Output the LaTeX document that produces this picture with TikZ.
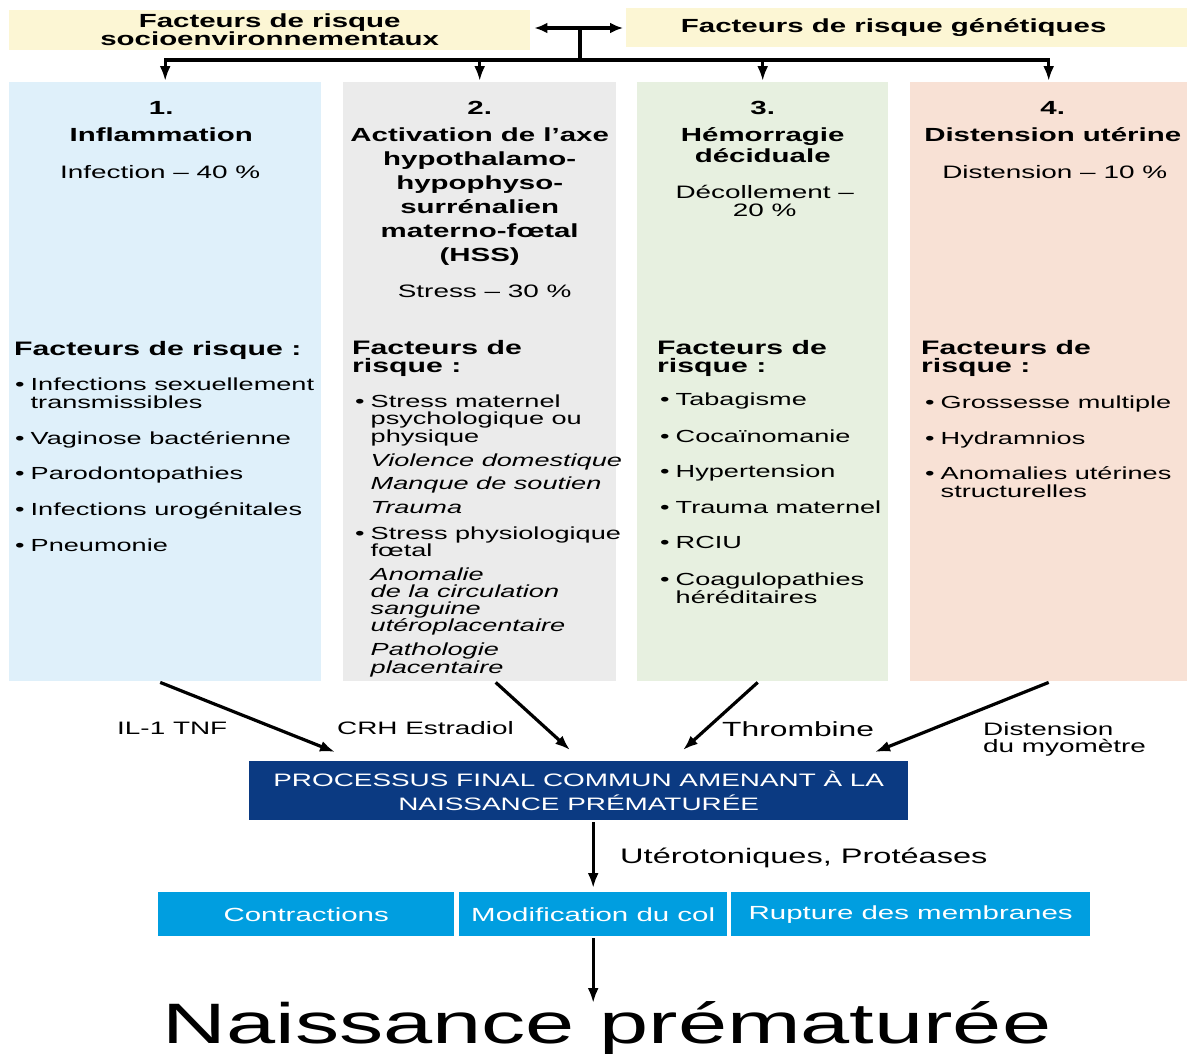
\documentclass[tikz,border=0pt]{standalone}
\usepackage{fontspec}
\setmainfont{Liberation Sans}[FakeStretch=1.55]
\usetikzlibrary{arrows.meta,positioning,calc}
\definecolor{RiskYellow}{HTML}{FCF6D4}
\definecolor{InflBlue}{HTML}{DFF0FA}
\definecolor{AxisGray}{HTML}{EBEBEB}
\definecolor{HemoGreen}{HTML}{E7F0E0}
\definecolor{DistPeach}{HTML}{F8E1D5}
\definecolor{FinalBlue}{HTML}{0B3A82}
\definecolor{StepCyan}{HTML}{009EE0}
\newcommand{\sz}[2]{\fontsize{#1}{#2}\selectfont}
\newcommand{\bul}{\makebox[15.5pt][l]{\textbullet}}
\newcommand{\ind}{\hspace*{15.5pt}}
\tikzset{
  riskbox/.style={rectangle,fill=RiskYellow,anchor=north west,inner sep=0pt,align=center,font=\sz{19}{18}\bfseries},
  colbox/.style={rectangle,anchor=north west,inner sep=0pt,minimum height=599pt},
  coltitle/.style={anchor=base,inner sep=0pt,align=center,font=\sz{19}{24}\bfseries},
  colsub/.style={anchor=base,inner sep=0pt,align=center,font=\sz{18}{18}},
  riskhead/.style={anchor=base west,inner sep=0pt,align=left,font=\sz{19.5}{18}\bfseries},
  risklist/.style={anchor=base west,inner sep=0pt,align=left,font=\sz{17.5}{17.3}},
  effect/.style={anchor=base west,inner sep=0pt,align=left,font=\sz{18}{17}},
  finalbox/.style={rectangle,fill=FinalBlue,text=white,anchor=north west,inner sep=0pt,align=center,font=\sz{18}{24}},
  stepbox/.style={rectangle,fill=StepCyan,text=white,anchor=north west,inner sep=0pt,minimum height=44pt,font=\sz{19}{19}},
  arrow/.style={-{Latex[length=15pt,width=11pt]},line width=3.2pt},
  dblarrow/.style={{Latex[length=13pt,width=11pt]}-{Latex[length=13pt,width=11pt]},line width=3.4pt},
}
\begin{document}
\begin{tikzpicture}[x=1pt,y=-1pt]
  \useasboundingbox[fill=white] (0,0) rectangle (1192,1053);

  % -- risk factors on top --
  \node[riskbox,minimum width=521pt,minimum height=40pt] (socio) at (9,10) {Facteurs de risque\\socioenvironnementaux};
  \node[riskbox,minimum width=561pt,minimum height=39pt] (gen) at (626,8) {Facteurs de risque génétiques\hspace*{26pt}};
  \coordinate (mid) at (580,28);
  \coordinate (hub) at (580,60);

  % -- the four pathways --
  \node[colbox,fill=InflBlue,minimum width=312pt] (c1) at (9,82) {};
  \node[colbox,fill=AxisGray,minimum width=273pt] (c2) at (343,82) {};
  \node[colbox,fill=HemoGreen,minimum width=251pt] (c3) at (637,82) {};
  \node[colbox,fill=DistPeach,minimum width=277pt] (c4) at (910,82) {};

  % multi-line nodes sit on the baseline of their last line
  \node[coltitle] (t1) at ($(c1.north |- 0,141)+(-4,0)$) {1.\\[3pt]Inflammation};
  \node[coltitle] (t2) at (c2.north |- 0,261) {2.\\[3pt]Activation de l’axe\\hypothalamo-\\hypophyso-\\surrénalien\\materno-fœtal\\(HSS)};
  \node[coltitle] (t3) at (c3.north |- 0,162) {3.\\[3pt]Hémorragie\\[-3pt]déciduale};
  \node[coltitle] (t4) at ($(c4.north |- 0,141)+(4,0)$) {4.\\[3pt]Distension utérine};

  \node[colsub] (s1) at ($(c1.north |- 0,178)+(-5,0)$) {Infection -- 40 \%};
  \node[colsub] (s2) at ($(c2.north |- 0,297)+(5,0)$) {Stress -- 30 \%};
  \node[colsub] (s3) at ($(c3.north |- 0,216)+(2,0)$) {Décollement --\\20 \%};
  \node[colsub] (s4) at ($(c4.north |- 0,178)+(6,0)$) {Distension -- 10 \%};

  \node[riskhead] (h1) at (14,355) {Facteurs de risque :};
  \node[riskhead] (h2) at (352,372) {Facteurs de\\risque :};
  \node[riskhead] (h3) at (657,372) {Facteurs de\\risque :};
  \node[riskhead] (h4) at (921,372) {Facteurs de\\risque :};

  \node[risklist] (l1) at (15,551) {\bul Infections sexuellement\\\ind transmissibles\\[18.7pt]
    \bul Vaginose bactérienne\\[17.7pt]\bul Parodontopathies\\[18.7pt]
    \bul Infections urogénitales\\[18.7pt]\bul Pneumonie};
  \node[risklist] (l2) at (355,673) {\bul Stress maternel\\\ind psychologique ou\\\ind physique\\[6.5pt]
    \ind\textit{Violence domestique}\\[6.5pt]\ind\textit{Manque de soutien}\\[6pt]\ind\textit{Trauma}\\[9.5pt]
    \bul Stress physiologique\\[-1pt]\ind fœtal\\[6.5pt]
    \ind\textit{Anomalie}\\\ind\textit{de la circulation}\\\ind\textit{sanguine}\\\ind\textit{utéroplacentaire}\\[6.5pt]
    \ind\textit{Pathologie}\\\ind\textit{placentaire}};
  \node[risklist] (l3) at (660,603) {\bul Tabagisme\\[19.5pt]\bul Cocaïnomanie\\[17.7pt]\bul Hypertension\\[18.7pt]
    \bul Trauma maternel\\[17.7pt]\bul RCIU\\[19.7pt]\bul Coagulopathies\\\ind héréditaires};
  \node[risklist] (l4) at (925,497) {\bul Grossesse multiple\\[18.7pt]\bul Hydramnios\\[17.7pt]
    \bul Anomalies utérines\\\ind structurelles};

  % -- common final pathway --
  \node[finalbox,minimum width=659pt,minimum height=59pt] (fin) at (249,761) {PROCESSUS FINAL COMMUN AMENANT À LA\\NAISSANCE PRÉMATURÉE};
  \coordinate (e1) at (335,752);
  \coordinate (e2) at (570,750);
  \coordinate (e3) at (683,750);
  \coordinate (e4) at (875,752);

  \node[effect] (m1) at (117,734) {IL-1 TNF};
  \node[effect] (m2) at (337,734) {CRH Estradiol};
  \node[effect,font=\sz{20.5}{20}] (m3) at (722,736) {Thrombine};
  \node[effect] (m4) at (983,752) {Distension\\du myomètre};

  \node[stepbox,minimum width=296pt] (contr) at (158,892) {Contractions};
  \node[stepbox,minimum width=268pt] (col) at (459,892) {Modification du col};
  \node[stepbox,minimum width=359pt] (rupt) at (731,892) {Rupture des membranes};
  \node[effect,font=\sz{21}{21}] (ut) at (620,863) {Utérotoniques, Protéases};

  \node[anchor=base,inner sep=0pt,font=\sz{57}{57}] (naiss) at (607,1043) {Naissance prématurée};

  % -- connectors --
  \draw[dblarrow,shorten <=4pt,shorten >=3pt] (socio.east |- mid) -- (gen.west |- mid);
  \draw[line width=3.4pt] (mid) -- (hub);
  \foreach \c in {c1,c2,c3,c4}
    \draw[arrow,line width=3.4pt,shorten >=1pt] (hub) -| (\c.north);
  \draw[arrow] ($(c1.south)+(-5,1)$) -- (e1);
  \draw[arrow] ($(c2.south)+(16,1)$) -- (e2);
  \draw[arrow] ($(c3.south)+(-5,1)$) -- (e3);
  \draw[arrow] ($(c4.south)+(0,1)$) -- (e4);
  \draw[arrow,shorten <=2pt,shorten >=4pt] (col.north |- fin.south) -- (col.north);
  \draw[arrow,shorten <=2pt,shorten >=2pt] (col.south) -- (col.south |- 0,1005);
\end{tikzpicture}
\end{document}
